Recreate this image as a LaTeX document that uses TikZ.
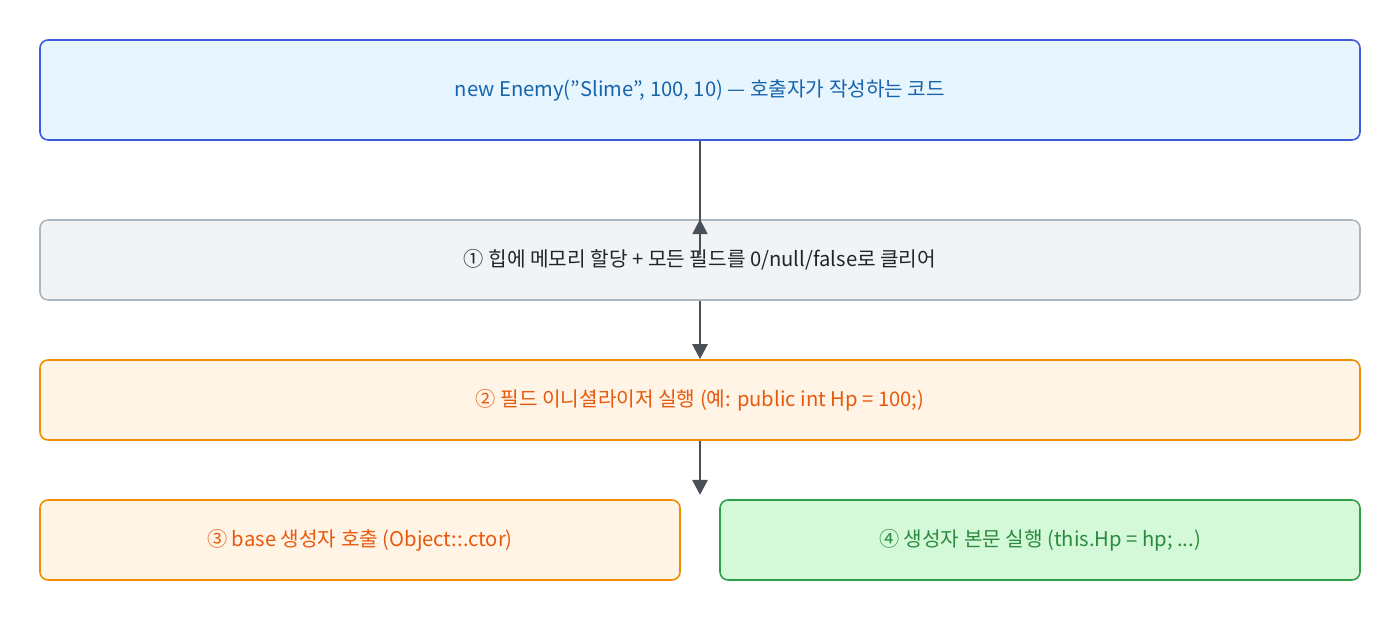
\documentclass[tikz,border=0pt]{standalone}
\usepackage{fontspec}
\setmainfont{Noto Sans CJK KR}
\usetikzlibrary{positioning,arrows.meta}
\definecolor{blueFill}{HTML}{E7F5FF}
\definecolor{blueLine}{HTML}{3B5BDB}
\definecolor{blueText}{HTML}{1864AB}
\definecolor{grayFill}{HTML}{F1F3F5}
\definecolor{grayLine}{HTML}{ADB5BD}
\definecolor{grayText}{HTML}{212529}
\definecolor{orangeFill}{HTML}{FFF4E6}
\definecolor{orangeLine}{HTML}{F08C00}
\definecolor{orangeText}{HTML}{E8590C}
\definecolor{greenFill}{HTML}{D3F9D8}
\definecolor{greenLine}{HTML}{2F9E44}
\definecolor{greenText}{HTML}{2B8A3E}
\definecolor{arrowGray}{HTML}{495057}
\tikzset{
  box/.style={draw, rounded corners=0.16cm, line width=0.9pt, inner sep=0pt,
    align=center, font=\fontsize{11.5}{14}\selectfont},
  wide/.style={box, minimum width=26.4cm, minimum height=1.6cm},
  half/.style={box, minimum width=12.8cm, minimum height=1.6cm},
  flow/.style={-{Triangle[length=0.3cm,width=0.3cm]}, draw=arrowGray, line width=1.4pt}
}
\begin{document}
\begin{tikzpicture}
\useasboundingbox (0,0) rectangle (28,12.8);
\node[wide, minimum height=2cm, fill=blueFill, draw=blueLine, text=blueText] (call) at (14,11.0)
  {new Enemy("Slime", 100, 10) — 호출자가 작성하는 코드};
\node[wide, fill=grayFill, draw=grayLine, text=grayText] (alloc) at (14,7.6)
  {① 힙에 메모리 할당 + 모든 필드를 0/null/false로 클리어};
\node[wide, fill=orangeFill, draw=orangeLine, text=orangeText] (init) at (14,4.8)
  {② 필드 이니셜라이저 실행 (예: public int Hp = 100;)};
\node[half, fill=orangeFill, draw=orangeLine, text=orangeText] (base) at (7.2,2.0)
  {③ base 생성자 호출 (Object::.ctor)};
\node[half, fill=greenFill, draw=greenLine, text=greenText] (body) at (20.8,2.0)
  {④ 생성자 본문 실행 (this.Hp = hp; ...)};
\coordinate (next) at (14,2.9);

\draw[flow] (call) -- (alloc.north |- 0,7.7) -- (alloc);
\draw[flow] (alloc) -- (init);
\draw[flow] (init) -- (next);
\end{tikzpicture}
\end{document}
